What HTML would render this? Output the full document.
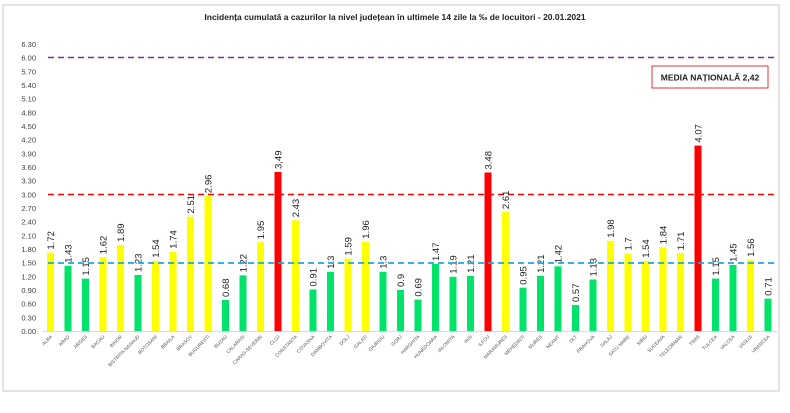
<!DOCTYPE html>
<html><head><meta charset="utf-8"><style>
html,body{margin:0;padding:0;background:#fff}
svg{display:block;font-family:"Liberation Sans",sans-serif}
.t{font-size:7.5px;fill:#404040;text-anchor:end}
.v{font-size:9.5px;fill:#222;text-anchor:start}
.c{font-size:4.8px;fill:#555;text-anchor:end}
</style></head><body>
<svg width="790" height="413" viewBox="0 0 790 413">
<rect x="3" y="5" width="776" height="386" fill="#fff" stroke="#c8c8c8" stroke-width="1"/>
<text x="395" y="20" font-size="8.5" font-weight="bold" text-anchor="middle" fill="#222">Incidența cumulată a cazurilor la nivel județean în ultimele 14 zile la ‰ de locuitori - 20.01.2021</text>
<g>
<text class="t" x="36" y="334">0.00</text><text class="t" x="36" y="320.3">0.30</text><text class="t" x="36" y="306.7">0.60</text><text class="t" x="36" y="293">0.90</text><text class="t" x="36" y="279.3">1.20</text><text class="t" x="36" y="265.7">1.50</text><text class="t" x="36" y="252">1.80</text><text class="t" x="36" y="238.3">2.10</text><text class="t" x="36" y="224.7">2.40</text><text class="t" x="36" y="211">2.70</text><text class="t" x="36" y="197.3">3.00</text><text class="t" x="36" y="183.7">3.30</text><text class="t" x="36" y="170">3.60</text><text class="t" x="36" y="156.3">3.90</text><text class="t" x="36" y="142.7">4.20</text><text class="t" x="36" y="129">4.50</text><text class="t" x="36" y="115.3">4.80</text><text class="t" x="36" y="101.7">5.10</text><text class="t" x="36" y="88">5.40</text><text class="t" x="36" y="74.3">5.70</text><text class="t" x="36" y="60.7">6.00</text><text class="t" x="36" y="47">6.30</text>
</g>
<line x1="43" y1="331.5" x2="777" y2="331.5" stroke="#d9d9d9"/>
<line x1="48" y1="57.5" x2="776" y2="57.5" stroke="#7030a0" stroke-width="1.6" stroke-dasharray="6,4"/>
<line x1="48" y1="194.5" x2="776" y2="194.5" stroke="#ff0000" stroke-width="1.6" stroke-dasharray="6,4"/>
<rect x="652" y="66" width="116" height="22" fill="#fff" stroke="#e0303a" stroke-width="1"/>
<text x="710" y="80.5" font-size="8.5" font-weight="bold" text-anchor="middle" fill="#222">MEDIA NAȚIONALĂ 2,42</text>
<g transform="translate(50.5,0)"><rect x="-3.5" y="252.6" width="7" height="78.4" fill="#ffff00"/><text class="v" transform="translate(3.5,249.6) rotate(-90)">1.72</text><text class="c" transform="translate(2,337) rotate(-45)">ALBA</text></g>
<g transform="translate(68,0)"><rect x="-3.5" y="265.8" width="7" height="65.2" fill="#00e36b"/><text class="v" transform="translate(3.5,262.8) rotate(-90)">1.43</text><text class="c" transform="translate(2,337) rotate(-45)">ARAD</text></g>
<g transform="translate(85.5,0)"><rect x="-3.5" y="278.6" width="7" height="52.4" fill="#00e36b"/><text class="v" transform="translate(3.5,275.6) rotate(-90)">1.15</text><text class="c" transform="translate(2,337) rotate(-45)">ARGES</text></g>
<g transform="translate(103,0)"><rect x="-3.5" y="257.2" width="7" height="73.8" fill="#ffff00"/><text class="v" transform="translate(3.5,254.2) rotate(-90)">1.62</text><text class="c" transform="translate(2,337) rotate(-45)">BACAU</text></g>
<g transform="translate(120.5,0)"><rect x="-3.5" y="244.9" width="7" height="86.1" fill="#ffff00"/><text class="v" transform="translate(3.5,241.9) rotate(-90)">1.89</text><text class="c" transform="translate(2,337) rotate(-45)">BIHOR</text></g>
<g transform="translate(138,0)"><rect x="-3.5" y="275" width="7" height="56" fill="#00e36b"/><text class="v" transform="translate(3.5,272) rotate(-90)">1.23</text><text class="c" transform="translate(2,337) rotate(-45)">BISTRITA NASAUD</text></g>
<g transform="translate(155.5,0)"><rect x="-3.5" y="260.8" width="7" height="70.2" fill="#ffff00"/><text class="v" transform="translate(3.5,257.8) rotate(-90)">1.54</text><text class="c" transform="translate(2,337) rotate(-45)">BOTOSANI</text></g>
<g transform="translate(173,0)"><rect x="-3.5" y="251.7" width="7" height="79.3" fill="#ffff00"/><text class="v" transform="translate(3.5,248.7) rotate(-90)">1.74</text><text class="c" transform="translate(2,337) rotate(-45)">BRAILA</text></g>
<g transform="translate(190.5,0)"><rect x="-3.5" y="216.6" width="7" height="114.4" fill="#ffff00"/><text class="v" transform="translate(3.5,213.6) rotate(-90)">2.51</text><text class="c" transform="translate(2,337) rotate(-45)">BRASOV</text></g>
<g transform="translate(208,0)"><rect x="-3.5" y="196.1" width="7" height="134.9" fill="#ffff00"/><text class="v" transform="translate(3.5,193.1) rotate(-90)">2.96</text><text class="c" transform="translate(2,337) rotate(-45)">BUCURESTI</text></g>
<g transform="translate(225.5,0)"><rect x="-3.5" y="300" width="7" height="31" fill="#00e36b"/><text class="v" transform="translate(3.5,297) rotate(-90)">0.68</text><text class="c" transform="translate(2,337) rotate(-45)">BUZAU</text></g>
<g transform="translate(243,0)"><rect x="-3.5" y="275.4" width="7" height="55.6" fill="#00e36b"/><text class="v" transform="translate(3.5,272.4) rotate(-90)">1.22</text><text class="c" transform="translate(2,337) rotate(-45)">CALARASI</text></g>
<g transform="translate(260.5,0)"><rect x="-3.5" y="242.2" width="7" height="88.8" fill="#ffff00"/><text class="v" transform="translate(3.5,239.2) rotate(-90)">1.95</text><text class="c" transform="translate(2,337) rotate(-45)">CARAS-SEVERIN</text></g>
<g transform="translate(278,0)"><rect x="-3.5" y="172" width="7" height="159" fill="#ff0000"/><text class="v" transform="translate(3.5,169) rotate(-90)">3,49</text><text class="c" transform="translate(2,337) rotate(-45)">CLUJ</text></g>
<g transform="translate(295.5,0)"><rect x="-3.5" y="220.3" width="7" height="110.7" fill="#ffff00"/><text class="v" transform="translate(3.5,217.3) rotate(-90)">2.43</text><text class="c" transform="translate(2,337) rotate(-45)">CONSTANTA</text></g>
<g transform="translate(313,0)"><rect x="-3.5" y="289.5" width="7" height="41.5" fill="#00e36b"/><text class="v" transform="translate(3.5,286.5) rotate(-90)">0.91</text><text class="c" transform="translate(2,337) rotate(-45)">COVASNA</text></g>
<g transform="translate(330.5,0)"><rect x="-3.5" y="271.8" width="7" height="59.2" fill="#00e36b"/><text class="v" transform="translate(3.5,268.8) rotate(-90)">1.3</text><text class="c" transform="translate(2,337) rotate(-45)">DAMBOVITA</text></g>
<g transform="translate(348,0)"><rect x="-3.5" y="258.6" width="7" height="72.4" fill="#ffff00"/><text class="v" transform="translate(3.5,255.6) rotate(-90)">1.59</text><text class="c" transform="translate(2,337) rotate(-45)">DOLJ</text></g>
<g transform="translate(365.5,0)"><rect x="-3.5" y="241.7" width="7" height="89.3" fill="#ffff00"/><text class="v" transform="translate(3.5,238.7) rotate(-90)">1.96</text><text class="c" transform="translate(2,337) rotate(-45)">GALATI</text></g>
<g transform="translate(383,0)"><rect x="-3.5" y="271.8" width="7" height="59.2" fill="#00e36b"/><text class="v" transform="translate(3.5,268.8) rotate(-90)">1.3</text><text class="c" transform="translate(2,337) rotate(-45)">GIURGIU</text></g>
<g transform="translate(400.5,0)"><rect x="-3.5" y="290" width="7" height="41" fill="#00e36b"/><text class="v" transform="translate(3.5,287) rotate(-90)">0.9</text><text class="c" transform="translate(2,337) rotate(-45)">GORJ</text></g>
<g transform="translate(418,0)"><rect x="-3.5" y="299.6" width="7" height="31.4" fill="#00e36b"/><text class="v" transform="translate(3.5,296.6) rotate(-90)">0.69</text><text class="c" transform="translate(2,337) rotate(-45)">HARGHITA</text></g>
<g transform="translate(435.5,0)"><rect x="-3.5" y="264" width="7" height="67" fill="#00e36b"/><text class="v" transform="translate(3.5,261) rotate(-90)">1.47</text><text class="c" transform="translate(2,337) rotate(-45)">HUNEDOARA</text></g>
<g transform="translate(453,0)"><rect x="-3.5" y="276.8" width="7" height="54.2" fill="#00e36b"/><text class="v" transform="translate(3.5,273.8) rotate(-90)">1.19</text><text class="c" transform="translate(2,337) rotate(-45)">IALOMITA</text></g>
<g transform="translate(470.5,0)"><rect x="-3.5" y="275.9" width="7" height="55.1" fill="#00e36b"/><text class="v" transform="translate(3.5,272.9) rotate(-90)">1.21</text><text class="c" transform="translate(2,337) rotate(-45)">IASI</text></g>
<g transform="translate(488,0)"><rect x="-3.5" y="172.5" width="7" height="158.5" fill="#ff0000"/><text class="v" transform="translate(3.5,169.5) rotate(-90)">3.48</text><text class="c" transform="translate(2,337) rotate(-45)">ILFOV</text></g>
<g transform="translate(505.5,0)"><rect x="-3.5" y="212.1" width="7" height="118.9" fill="#ffff00"/><text class="v" transform="translate(3.5,209.1) rotate(-90)">2.61</text><text class="c" transform="translate(2,337) rotate(-45)">MARAMURES</text></g>
<g transform="translate(523,0)"><rect x="-3.5" y="287.7" width="7" height="43.3" fill="#00e36b"/><text class="v" transform="translate(3.5,284.7) rotate(-90)">0.95</text><text class="c" transform="translate(2,337) rotate(-45)">MEHEDINTI</text></g>
<g transform="translate(540.5,0)"><rect x="-3.5" y="275.9" width="7" height="55.1" fill="#00e36b"/><text class="v" transform="translate(3.5,272.9) rotate(-90)">1.21</text><text class="c" transform="translate(2,337) rotate(-45)">MURES</text></g>
<g transform="translate(558,0)"><rect x="-3.5" y="266.3" width="7" height="64.7" fill="#00e36b"/><text class="v" transform="translate(3.5,263.3) rotate(-90)">1.42</text><text class="c" transform="translate(2,337) rotate(-45)">NEAMT</text></g>
<g transform="translate(575.5,0)"><rect x="-3.5" y="305" width="7" height="26" fill="#00e36b"/><text class="v" transform="translate(3.5,302) rotate(-90)">0.57</text><text class="c" transform="translate(2,337) rotate(-45)">OLT</text></g>
<g transform="translate(593,0)"><rect x="-3.5" y="279.5" width="7" height="51.5" fill="#00e36b"/><text class="v" transform="translate(3.5,276.5) rotate(-90)">1.13</text><text class="c" transform="translate(2,337) rotate(-45)">PRAHOVA</text></g>
<g transform="translate(610.5,0)"><rect x="-3.5" y="240.8" width="7" height="90.2" fill="#ffff00"/><text class="v" transform="translate(3.5,237.8) rotate(-90)">1.98</text><text class="c" transform="translate(2,337) rotate(-45)">SALAJ</text></g>
<g transform="translate(628,0)"><rect x="-3.5" y="253.5" width="7" height="77.5" fill="#ffff00"/><text class="v" transform="translate(3.5,250.5) rotate(-90)">1.7</text><text class="c" transform="translate(2,337) rotate(-45)">SATU MARE</text></g>
<g transform="translate(645.5,0)"><rect x="-3.5" y="260.8" width="7" height="70.2" fill="#ffff00"/><text class="v" transform="translate(3.5,257.8) rotate(-90)">1.54</text><text class="c" transform="translate(2,337) rotate(-45)">SIBIU</text></g>
<g transform="translate(663,0)"><rect x="-3.5" y="247.2" width="7" height="83.8" fill="#ffff00"/><text class="v" transform="translate(3.5,244.2) rotate(-90)">1.84</text><text class="c" transform="translate(2,337) rotate(-45)">SUCEAVA</text></g>
<g transform="translate(680.5,0)"><rect x="-3.5" y="253.1" width="7" height="77.9" fill="#ffff00"/><text class="v" transform="translate(3.5,250.1) rotate(-90)">1.71</text><text class="c" transform="translate(2,337) rotate(-45)">TELEORMAN</text></g>
<g transform="translate(698,0)"><rect x="-3.5" y="145.6" width="7" height="185.4" fill="#ff0000"/><text class="v" transform="translate(3.5,142.6) rotate(-90)">4.07</text><text class="c" transform="translate(2,337) rotate(-45)">TIMIS</text></g>
<g transform="translate(715.5,0)"><rect x="-3.5" y="278.6" width="7" height="52.4" fill="#00e36b"/><text class="v" transform="translate(3.5,275.6) rotate(-90)">1.15</text><text class="c" transform="translate(2,337) rotate(-45)">TULCEA</text></g>
<g transform="translate(733,0)"><rect x="-3.5" y="264.9" width="7" height="66.1" fill="#00e36b"/><text class="v" transform="translate(3.5,261.9) rotate(-90)">1.45</text><text class="c" transform="translate(2,337) rotate(-45)">VALCEA</text></g>
<g transform="translate(750.5,0)"><rect x="-3.5" y="259.9" width="7" height="71.1" fill="#ffff00"/><text class="v" transform="translate(3.5,256.9) rotate(-90)">1.56</text><text class="c" transform="translate(2,337) rotate(-45)">VASLUI</text></g>
<g transform="translate(768,0)"><rect x="-3.5" y="298.7" width="7" height="32.3" fill="#00e36b"/><text class="v" transform="translate(3.5,295.7) rotate(-90)">0.71</text><text class="c" transform="translate(2,337) rotate(-45)">VRANCEA</text></g>
<line x1="48" y1="263" x2="776" y2="263" stroke="#1fa6e0" stroke-width="1.8" stroke-dasharray="6,4"/>
</svg>
</body></html>
